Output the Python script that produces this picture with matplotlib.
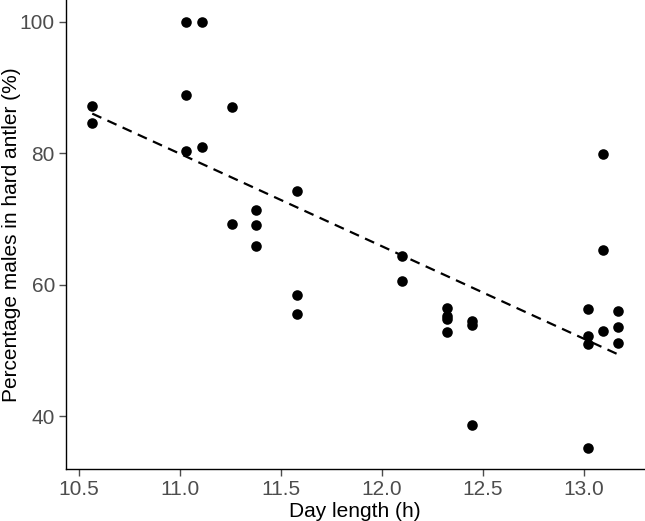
import numpy as np
import matplotlib
matplotlib.use("Agg")
import matplotlib.pyplot as plt

plt.rcParams['font.family'] = ['Liberation Sans', 'DejaVu Sans']

# day length (h) and % males in hard antler
day_length = [10.566, 10.566,
              11.028, 11.028, 11.028, 11.110, 11.110,
              11.259, 11.259,
              11.379, 11.379, 11.379,
              11.581, 11.581, 11.581,
              12.100, 12.100,
              12.323, 12.323, 12.323, 12.323,
              12.449, 12.449, 12.449,
              13.021, 13.021, 13.021, 13.021,
              13.098, 13.098, 13.098,
              13.169, 13.169, 13.169]
pct_hard = [87.1, 84.5,
            100.0, 88.9, 80.3, 100.0, 81.0,
            87.0, 69.2,
            71.4, 69.1, 65.8,
            74.2, 58.4, 55.5,
            64.4, 60.5,
            56.4, 55.2, 54.8, 52.8,
            54.4, 53.9, 38.6,
            56.3, 52.2, 51.0, 35.2,
            79.9, 65.2, 52.9,
            56.0, 53.6, 51.1]

x_ticks = [10.5, 11.0, 11.5, 12.0, 12.5, 13.0]
y_ticks = [40, 60, 80, 100]

x = np.array(day_length)
y = np.array(pct_hard)

fig = plt.figure(figsize=(6.45, 5.21), dpi=100)
ax = fig.add_axes([66/645, 1 - 469/521, (644 - 66)/645, 469/521 - 0.0005])

ax.scatter(x, y, s=58, color="black", zorder=3, linewidths=0)

# linear fit (geom_smooth lm style)
b1, b0 = np.polyfit(x, y, 1)
xs = np.array([x.min(), x.max()])
ax.plot(xs, b0 + b1 * xs, color="black", lw=1.6, ls=(0, (4.5, 3)), zorder=2)

xr = x.max() - x.min()
yr = y.max() - y.min()
ax.set_xlim(x.min() - 0.05 * xr, x.max() + 0.05 * xr)
ax.set_ylim(y.min() - 0.05 * yr, y.max() + 0.05 * yr)

ax.set_xticks(x_ticks)
ax.set_xticklabels([f"{v:.1f}" for v in x_ticks])
ax.set_yticks(y_ticks)

for s in ["top", "right"]:
    ax.spines[s].set_visible(False)
for s in ["left", "bottom"]:
    ax.spines[s].set_color("black")
    ax.spines[s].set_linewidth(1.0)

ax.tick_params(axis="both", colors="#4d4d4d", labelsize=15, length=5, width=1, pad=3)
ax.set_xlabel("Day length (h)", fontsize=15, color="black", labelpad=2)
ax.set_ylabel("Percentage males in hard antler (%)", fontsize=15, color="black")
ax.yaxis.set_label_coords(-0.078, 0.5)

fig.savefig("out.png", dpi=100)
